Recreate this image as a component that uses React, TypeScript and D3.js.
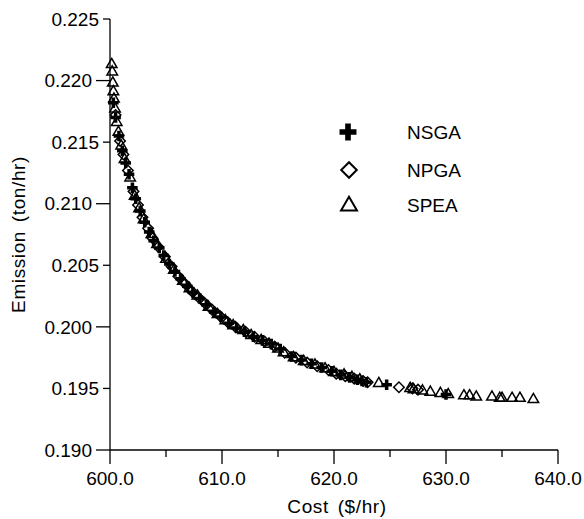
import { useEffect, useRef } from 'react';
import * as d3 from 'd3';

// Pareto fronts: [cost $/hr, emission ton/hr]
const nsga: [number, number][] = [
  [600.3, 0.2182], [600.5, 0.217], [600.8, 0.2155], [601.1, 0.2143], [601.4, 0.2133],
  [601.7, 0.2124], [602.0, 0.2113], [602.3, 0.2104], [602.7, 0.2094], [603.1, 0.2085],
  [603.5, 0.2077], [603.9, 0.207], [604.4, 0.2064], [604.8, 0.2058], [605.3, 0.2051],
  [605.8, 0.2045], [606.3, 0.2039], [606.9, 0.2033], [607.4, 0.2028], [608.0, 0.2023],
  [608.6, 0.2018], [609.3, 0.2012], [609.9, 0.2008], [610.6, 0.2003], [611.3, 0.1999],
  [612.0, 0.1996], [612.8, 0.1992], [613.6, 0.1989], [614.4, 0.1986], [615.2, 0.1982],
  [616.2, 0.1976], [617.1, 0.1973], [618.0, 0.197], [618.9, 0.1967], [619.8, 0.1964],
  [620.6, 0.1961], [621.4, 0.1959], [622.1, 0.1957], [622.5, 0.1956], [622.9, 0.1955],
  [624.7, 0.1953], [630.0, 0.1945],
];

const npga: [number, number][] = [
  [600.5, 0.2172], [600.9, 0.2151], [601.2, 0.214], [601.6, 0.2127], [602.1, 0.211],
  [602.5, 0.2099], [602.9, 0.2089], [603.4, 0.208], [603.8, 0.2072], [604.3, 0.2065],
  [604.9, 0.2057], [605.5, 0.2049], [606.1, 0.2041], [606.7, 0.2035], [607.3, 0.2029],
  [607.9, 0.2024], [608.5, 0.2019], [609.1, 0.2014], [609.8, 0.2009], [610.5, 0.2004],
  [611.2, 0.2], [612.1, 0.1996], [612.9, 0.1992], [613.8, 0.1988], [614.7, 0.1984],
  [615.6, 0.1979], [616.6, 0.1975], [617.6, 0.1971], [618.5, 0.1968], [619.5, 0.1965],
  [620.2, 0.1962], [621.0, 0.196], [621.8, 0.1958], [622.6, 0.1956], [623.0, 0.1955],
  [625.8, 0.1951], [627.0, 0.195], [627.5, 0.1949],
];

const spea: [number, number][] = [
  [600.15, 0.2213], [600.2, 0.2207], [600.25, 0.2198], [600.3, 0.2191], [600.35, 0.2185],
  [600.45, 0.2177], [600.6, 0.2166], [600.75, 0.2158], [601.0, 0.2147], [601.3, 0.2136],
  [601.8, 0.2121], [602.2, 0.2106], [602.6, 0.2096], [603.0, 0.2087], [603.7, 0.2075],
  [604.2, 0.2067], [605.0, 0.2055], [605.7, 0.2046], [606.5, 0.2037], [607.1, 0.2031],
  [607.8, 0.2025], [608.8, 0.2016], [609.6, 0.201], [610.3, 0.2005], [611.0, 0.2001],
  [611.9, 0.1997], [612.6, 0.1993], [613.5, 0.1989], [614.2, 0.1986], [615.0, 0.1982],
  [615.5, 0.1979], [616.4, 0.1975], [617.3, 0.1972], [618.3, 0.1969], [619.2, 0.1966],
  [620.0, 0.1963], [620.9, 0.1961], [621.6, 0.1959], [622.3, 0.1957], [624.0, 0.1954],
  [626.8, 0.195], [627.1, 0.1949], [627.9, 0.1948], [628.6, 0.1947], [629.5, 0.1946],
  [630.2, 0.1945], [631.6, 0.1944], [632.1, 0.1944], [632.7, 0.1943], [634.1, 0.1943],
  [634.8, 0.1942], [635.0, 0.1942], [635.9, 0.1942], [636.6, 0.1942], [637.8, 0.1941],
];

const seriesNames = ['NSGA', 'NPGA', 'SPEA'];
const xTicks = [600, 605, 610, 615, 620, 625, 630, 635, 640];
const yTicks = [0.19, 0.195, 0.2, 0.205, 0.21, 0.215, 0.22, 0.225];

const FONT = '"Liberation Sans", Arial, sans-serif';

const App = () => {
  const svgRef = useRef<SVGSVGElement>(null);

  useEffect(() => {
    const svg = d3.select(svgRef.current);
    svg.selectAll('*').remove();

    const x = d3.scaleLinear().domain([600, 640]).range([110, 558]);
    const y = d3.scaleLinear().domain([0.19, 0.225]).range([450, 19]);

    const g = svg.append('g').style('font-family', FONT).style('font-size', '19px');

    // axes lines
    g.append('line')
      .attr('x1', x(600)).attr('x2', x(600))
      .attr('y1', y(0.225)).attr('y2', y(0.19))
      .attr('stroke', '#000').attr('stroke-width', 1.3);
    g.append('line')
      .attr('x1', x(600)).attr('x2', x(640))
      .attr('y1', y(0.19)).attr('y2', y(0.19))
      .attr('stroke', '#000').attr('stroke-width', 1.3);

    // x ticks: major every 10 with label, minor between
    xTicks.forEach(t => {
      const major = t % 10 === 0;
      g.append('line')
        .attr('x1', x(t)).attr('x2', x(t))
        .attr('y1', y(0.19)).attr('y2', y(0.19) + (major ? 14 : 7))
        .attr('stroke', '#000').attr('stroke-width', 1.3);
      if (major) {
        g.append('text')
          .attr('x', x(t))
          .attr('y', 485)
          .attr('text-anchor', 'middle')
          .text(d3.format('.1f')(t));
      }
    });

    // y ticks: all labelled, long ones every 0.010
    yTicks.forEach((t, i) => {
      const major = i % 2 === 0;
      const len = major ? 14 : 7;
      g.append('line')
        .attr('x1', x(600) - len).attr('x2', x(600))
        .attr('y1', y(t)).attr('y2', y(t))
        .attr('stroke', '#000').attr('stroke-width', 1.3);
      g.append('text')
        .attr('x', x(600) - len - 4)
        .attr('y', y(t))
        .attr('dy', '0.35em')
        .attr('text-anchor', 'end')
        .text(d3.format('.3f')(t));
    });

    // axis titles
    g.append('text')
      .attr('x', (x(600) + x(640)) / 2 + 3)
      .attr('y', 513)
      .attr('text-anchor', 'middle')
      .style('letter-spacing', '0.6px')
      .style('word-spacing', '3px')
      .text('Cost ($/hr)');

    g.append('text')
      .attr('transform', 'rotate(-90)')
      .attr('x', -(y(0.19) + y(0.225)) / 2)
      .attr('y', 25)
      .attr('text-anchor', 'middle')
      .style('letter-spacing', '0.6px')
      .style('word-spacing', '3px')
      .text('Emission (ton/hr)');

    // markers
    const cross = (s: number) => d3.symbol().type(d3.symbolCross).size(s)();
    const diamond = (s: number) => d3.symbol().type(d3.symbolSquare).size(s)();
    const tri = (s: number) => d3.symbol().type(d3.symbolTriangle).size(s)();

    const drawOpen = (data: [number, number][], path: string | null, rotate: number, sw: number) => {
      g.append('g')
        .selectAll('path')
        .data(data)
        .enter()
        .append('path')
        .attr('d', path)
        .attr('transform', d => `translate(${x(d[0])},${y(d[1])}) rotate(${rotate})`)
        .attr('fill', 'none')
        .attr('stroke', '#000')
        .attr('stroke-width', sw);
    };

    drawOpen(spea, tri(48), 0, 1.5);
    drawOpen(npga, diamond(55), 45, 1.5);
    g.append('g')
      .selectAll('path')
      .data(nsga)
      .enter()
      .append('path')
      .attr('d', cross(62))
      .attr('transform', d => `translate(${x(d[0])},${y(d[1])})`)
      .attr('fill', '#000');

    // legend
    const legendY = [132, 170, 205];
    const legend = g.append('g');
    legend.append('path')
      .attr('d', cross(160))
      .attr('transform', `translate(348,${legendY[0]})`)
      .attr('fill', '#000');
    legend.append('path')
      .attr('d', diamond(120))
      .attr('transform', `translate(349,${legendY[1]}) rotate(45)`)
      .attr('fill', 'none').attr('stroke', '#000').attr('stroke-width', 2);
    legend.append('path')
      .attr('d', tri(110))
      .attr('transform', `translate(349,${legendY[2] + 1})`)
      .attr('fill', 'none').attr('stroke', '#000').attr('stroke-width', 2);

    seriesNames.forEach((name, i) => {
      legend.append('text')
        .attr('x', 407)
        .attr('y', legendY[i])
        .attr('dy', '0.35em')
        .text(name);
    });
  }, []);

  return (
    <svg
      ref={svgRef}
      width={584}
      height={519}
      style={{ position: 'absolute', left: 0, top: 0, background: '#fff' }}
    />
  );
};

export default App;
